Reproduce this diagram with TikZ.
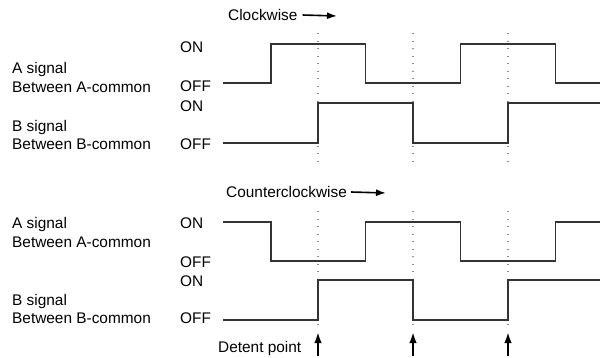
\documentclass[tikz,border=0pt]{standalone}
\usepackage{fontspec}
\setmainfont{Liberation Sans}
\usetikzlibrary{arrows.meta, positioning}

\begin{document}
\begin{tikzpicture}[
    x=1pt, y=-1pt,
    every node/.style={font=\fontsize{15.4}{18}\selectfont, inner sep=0pt, text height=11pt, text depth=0pt, anchor=west},
    wave/.style={draw=black!80, line width=1.8pt},
    detent/.style={draw=black!45, line width=1.3pt, dash pattern=on 1.3pt off 6.2pt},
    dirarrow/.style={draw, -{Latex[length=10pt, width=7pt]}, line width=1.6pt},
    uparrow/.style={draw, -{Latex[length=11pt, width=7.5pt]}, line width=2pt}
  ]
  \useasboundingbox (0,0) rectangle (600,357);

  % clockwise
  \node (cw) at (228,15) {Clockwise};
  \coordinate (cwtip) at (337,16);
  \draw[dirarrow] ([xshift=5pt]cw.east) -- (cwtip);
  \node (asig1) at (12,68) {A signal};
  \node (acom1) at (12,87) {Between A-common};
  \node (bsig1) at (12,126) {B signal};
  \node (bcom1) at (12,144) {Between B-common};
  \node (aon1) at (180,47) {ON};
  \node (aoff1) at (180,86) {OFF};
  \node (bon1) at (180,106) {ON};
  \node (boff1) at (180,144) {OFF};

  % counterclockwise
  \node (ccw) at (226,192) {Counterclockwise};
  \coordinate (ccwtip) at (386,193);
  \draw[dirarrow] ([xshift=4pt]ccw.east) -- (ccwtip);
  \node (asig2) at (12,223) {A signal};
  \node (acom2) at (12,242) {Between A-common};
  \node (bsig2) at (12,300) {B signal};
  \node (bcom2) at (12,318) {Between B-common};
  \node (aon2) at (180,223) {ON};
  \node (aoff2) at (180,262) {OFF};
  \node (bon2) at (180,281) {ON};
  \node (boff2) at (180,318) {OFF};
  \node (detent) at (218,347) {Detent point};

  \foreach \x in {318,413,508} {
    \draw[detent] (\x,33) -- (\x,166);
    \draw[detent] (\x,211) -- (\x,328);
    \coordinate (tip\x) at (\x,332);
    \draw[uparrow] (\x,356) -- (tip\x);
  }

  \draw[wave] (223,83) -| (271,44) -| (365.5,83) -| (460.5,44) -| (555.5,83) -- (600,83);
  \draw[wave] (223,143) -| (318,103) -| (413,143) -| (508,103) -- (600,103);
  \draw[wave] (223,222) -| (271,261) -| (365.5,222) -| (460.5,261) -| (555.5,222) -- (600,222);
  \draw[wave] (223,320) -| (318,280) -| (413,320) -| (508,280) -- (600,280);
\end{tikzpicture}
\end{document}
